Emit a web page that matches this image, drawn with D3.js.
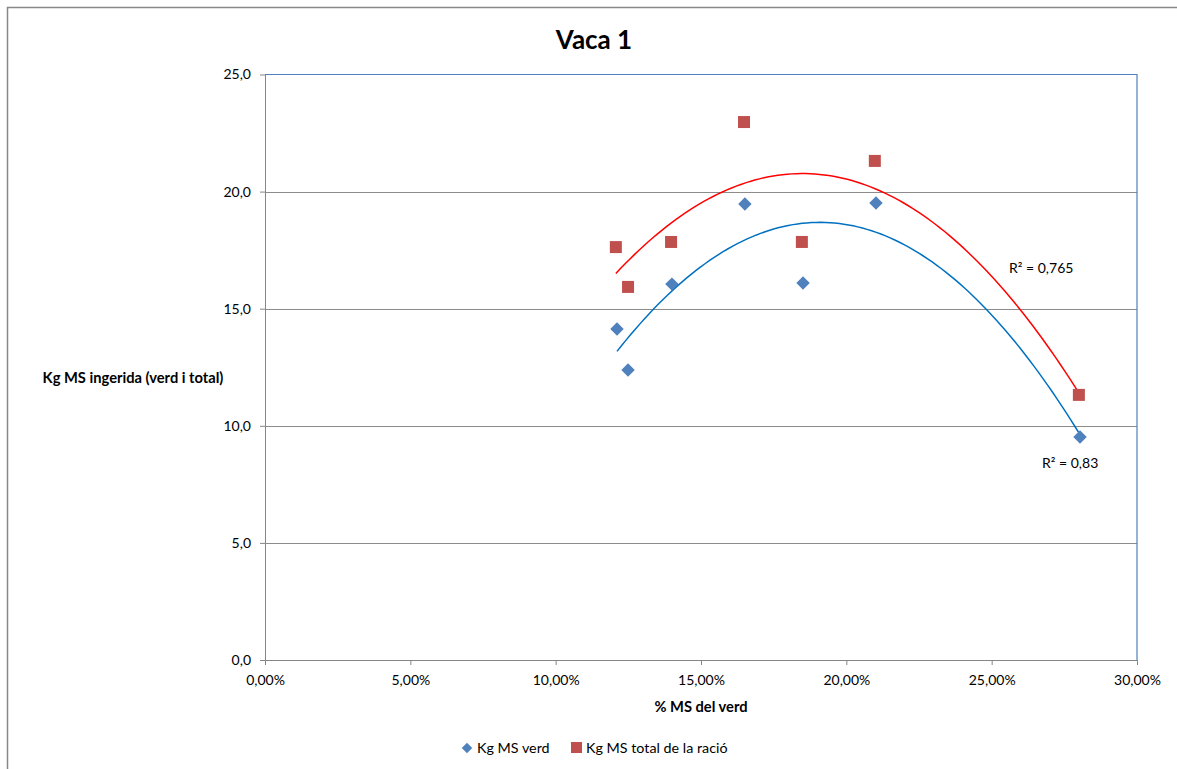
<!DOCTYPE html>
<html><head><meta charset="utf-8">
<script src="https://cdn.jsdelivr.net/npm/d3@7"></script>
<style>
body{margin:0;background:#fff;}
text{font-family:Lato,"Open Sans",sans-serif;}
</style></head>
<body><svg id="c" width="1177" height="769"></svg>
<script>
const title = "Vaca 1";
const xTitle = "% MS del verd";
const yTitle = "Kg MS ingerida (verd i total)";
const seriesNames = ["Kg MS verd", "Kg MS total de la ració"];
const xVerd = [0.1211, 0.1249, 0.1400, 0.1651, 0.1851, 0.2102, 0.2804];
const yVerd = [14.13, 12.38, 16.05, 19.47, 16.10, 19.51, 9.52];
const xTotal = [0.1207, 0.1249, 0.1397, 0.1648, 0.1847, 0.2098, 0.2800];
const yTotal = [17.63, 15.93, 17.85, 22.97, 17.85, 21.31, 11.32];
const r2Labels = ["R² = 0,83", "R² = 0,765"];
const xTicks = [0, 0.05, 0.10, 0.15, 0.20, 0.25, 0.30];
const yTicks = [0, 5, 10, 15, 20, 25];

const svg = d3.select("#c");
const L = 265, R = 1137, T = 74.5, B = 660;
const x = d3.scaleLinear().domain([0, 0.30]).range([L, R]);
const y = d3.scaleLinear().domain([0, 25]).range([B, T]);
const fmtX = v => (v*100).toFixed(2).replace(".", ",") + "%";
const fmtY = v => v.toFixed(1).replace(".", ",");

// outer border
svg.append("path").attr("d", "M7.5,769 V7.5 H1177").attr("fill","none").attr("stroke","#888").attr("stroke-width",1.5);

// gridlines
svg.append("g").selectAll("line").data(yTicks.filter(v=>v>0 && v<25)).join("line")
  .attr("x1", L).attr("x2", R).attr("y1", d=>Math.round(y(d))+0.5).attr("y2", d=>Math.round(y(d))+0.5)
  .attr("stroke","#8c8c8c").attr("stroke-width",1);

// plot border top/right
svg.append("path").attr("d", `M${L},${T} H${R} V${B}`).attr("fill","none").attr("stroke","#4f81bd").attr("stroke-width",1.2);

// axes
const xa = svg.append("g").attr("transform",`translate(0,${B})`)
  .call(d3.axisBottom(x).tickValues(xTicks).tickFormat(fmtX).tickSize(5).tickSizeOuter(0).tickPadding(10));
const ya = svg.append("g").attr("transform",`translate(${L},0)`)
  .call(d3.axisLeft(y).tickValues(yTicks).tickFormat(fmtY).tickSize(5).tickSizeOuter(0).tickPadding(9));
[xa, ya].forEach(a => {
  a.select(".domain").attr("stroke","#868686");
  a.selectAll(".tick line").attr("stroke","#868686");
  a.selectAll("text").attr("font-size", 14).attr("fill","#000").attr("font-family","Lato");
});

// quadratic least-squares fit
function polyfit2(xs, ys) {
  const n = xs.length;
  let s = [0,0,0,0,0], t = [0,0,0];
  for (let i=0;i<n;i++){ const xi=xs[i], yi=ys[i];
    for (let k=0;k<5;k++) s[k]+=Math.pow(xi,k);
    for (let k=0;k<3;k++) t[k]+=yi*Math.pow(xi,k); }
  const M = [[s[0],s[1],s[2],t[0]],[s[1],s[2],s[3],t[1]],[s[2],s[3],s[4],t[2]]];
  for (let i=0;i<3;i++){ let p=i; for(let j=i+1;j<3;j++) if(Math.abs(M[j][i])>Math.abs(M[p][i])) p=j;
    [M[i],M[p]]=[M[p],M[i]];
    for (let j=0;j<3;j++) if(j!==i){ const f=M[j][i]/M[i][i]; for(let k=i;k<4;k++) M[j][k]-=f*M[i][k]; } }
  return [M[0][3]/M[0][0], M[1][3]/M[1][1], M[2][3]/M[2][2]];
}
function trend(xs, ys, color) {
  const c = polyfit2(xs, ys);
  const x0 = d3.min(xs), x1 = d3.max(xs);
  const pts = d3.range(0, 101).map(i => { const xv = x0 + (x1-x0)*i/100; return [xv, c[0]+c[1]*xv+c[2]*xv*xv]; });
  svg.append("path").datum(pts).attr("fill","none").attr("stroke",color).attr("stroke-width",1.5)
    .attr("d", d3.line().x(d=>x(d[0])).y(d=>y(d[1])));
}
trend(xTotal, yTotal, "#ff0000");
trend(xVerd, yVerd, "#0070c0");

// markers
const dv = xVerd.map((v,i)=>[v,yVerd[i]]);
const dt = xTotal.map((v,i)=>[v,yTotal[i]]);
svg.append("g").selectAll("path").data(dv).join("path")
  .attr("d", d3.symbol().type(d3.symbolDiamond2).size(115)())
  .attr("transform", d=>`translate(${x(d[0])},${y(d[1])})`)
  .attr("fill","#4f81bd");
svg.append("g").selectAll("rect").data(dt).join("rect")
  .attr("x", d=>x(d[0])-6).attr("y", d=>y(d[1])-6).attr("width",12).attr("height",12)
  .attr("fill","#c0504d");

// R² labels
svg.append("text").attr("x",1009).attr("y",273).attr("font-size",14).text(r2Labels[1]);
svg.append("text").attr("x",1042).attr("y",468).attr("font-size",14).text(r2Labels[0]);

// titles
svg.append("text").attr("x",594).attr("y",49).attr("text-anchor","middle").attr("font-size",26).attr("font-weight","bold").text(title);
svg.append("text").attr("x",701).attr("y",712).attr("text-anchor","middle").attr("font-size",14.7).attr("font-weight","bold").text(xTitle);
svg.append("text").attr("x",133).attr("y",383).attr("text-anchor","middle").attr("font-size",14.7).attr("font-weight","bold").text(yTitle);

// legend
const lg = svg.append("g");
lg.append("path").attr("d", d3.symbol().type(d3.symbolDiamond2).size(70)()).attr("transform","translate(467,748)").attr("fill","#4f81bd");
lg.append("text").attr("x",477).attr("y",753).attr("font-size",14.3).text(seriesNames[0]);
lg.append("rect").attr("x",571).attr("y",742).attr("width",11).attr("height",11).attr("fill","#c0504d");
lg.append("text").attr("x",586).attr("y",753).attr("font-size",14.3).text(seriesNames[1]);
</script></body></html>
